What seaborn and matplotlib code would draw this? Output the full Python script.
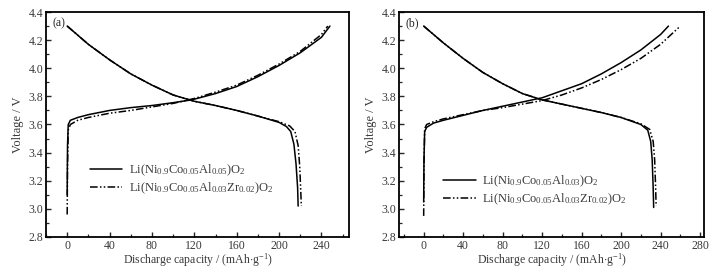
import numpy as np
import pandas as pd
import seaborn as sns
import matplotlib.pyplot as plt
from matplotlib.ticker import MultipleLocator

sns.set_style("ticks")
plt.rcParams["font.family"] = ["Liberation Serif", "DejaVu Serif"]
plt.rcParams["mathtext.fontset"] = "custom"
plt.rcParams["mathtext.rm"] = "Liberation Serif"
plt.rcParams["mathtext.it"] = "Liberation Serif:italic"

# sample names
s1_a = r"Li(Ni$_{0.9}$Co$_{0.05}$Al$_{0.05}$)O$_2$"
s2_a = r"Li(Ni$_{0.9}$Co$_{0.05}$Al$_{0.03}$Zr$_{0.02}$)O$_2$"
s1_b = r"Li(Ni$_{0.9}$Co$_{0.05}$Al$_{0.03}$)O$_2$"
s2_b = r"Li(Ni$_{0.9}$Co$_{0.05}$Al$_{0.03}$Zr$_{0.02}$)O$_2$"

# panel (a) - charge curves
a1_chg_x = [0, 0.3, 1, 3, 10, 20, 40, 60, 80, 100, 113, 120, 140, 160, 180, 200, 220, 240, 248]
a1_chg_y = [3.10, 3.45, 3.60, 3.63, 3.65, 3.67, 3.70, 3.72, 3.735, 3.755, 3.77, 3.78, 3.82, 3.87, 3.94, 4.02, 4.11, 4.22, 4.30]
a2_chg_x = [0, 0.3, 1, 3, 10, 20, 40, 60, 80, 100, 120, 140, 160, 180, 200, 220, 240, 246]
a2_chg_y = [2.96, 3.30, 3.56, 3.60, 3.63, 3.65, 3.68, 3.70, 3.725, 3.75, 3.785, 3.83, 3.88, 3.95, 4.03, 4.12, 4.24, 4.30]
# panel (a) - discharge curves
a1_dis_x = [0, 20, 40, 60, 80, 100, 120, 140, 160, 180, 200, 207, 211, 214, 216, 217.5, 218]
a1_dis_y = [4.30, 4.17, 4.06, 3.96, 3.88, 3.81, 3.765, 3.735, 3.70, 3.66, 3.615, 3.585, 3.55, 3.46, 3.32, 3.15, 3.02]
a2_dis_x = [0, 20, 40, 60, 80, 100, 120, 140, 160, 180, 200, 210, 215, 218, 219.5, 220.5, 221]
a2_dis_y = [4.30, 4.17, 4.06, 3.96, 3.88, 3.81, 3.765, 3.735, 3.70, 3.66, 3.62, 3.59, 3.55, 3.45, 3.30, 3.12, 3.02]

# panel (b) - charge curves
b1_chg_x = [0, 0.3, 1, 3, 10, 20, 40, 60, 80, 100, 120, 140, 160, 180, 200, 220, 240, 248]
b1_chg_y = [3.05, 3.35, 3.55, 3.58, 3.61, 3.63, 3.665, 3.70, 3.73, 3.76, 3.79, 3.84, 3.89, 3.96, 4.04, 4.13, 4.24, 4.30]
b2_chg_x = [0, 0.3, 1, 3, 10, 20, 40, 60, 80, 100, 120, 140, 160, 180, 200, 220, 240, 260]
b2_chg_y = [2.95, 3.30, 3.57, 3.60, 3.62, 3.64, 3.67, 3.70, 3.72, 3.745, 3.77, 3.81, 3.86, 3.92, 3.99, 4.07, 4.17, 4.30]
# panel (b) - discharge curves
b1_dis_x = [0, 20, 40, 60, 80, 100, 120, 140, 160, 180, 200, 220, 227, 230, 231.5, 232.5, 233]
b1_dis_y = [4.30, 4.18, 4.07, 3.97, 3.89, 3.82, 3.775, 3.745, 3.715, 3.685, 3.65, 3.60, 3.56, 3.48, 3.35, 3.15, 3.01]
b2_dis_x = [0, 20, 40, 60, 80, 100, 120, 140, 160, 180, 200, 220, 229, 232.5, 234, 235, 235.5]
b2_dis_y = [4.30, 4.18, 4.07, 3.97, 3.89, 3.82, 3.775, 3.745, 3.715, 3.685, 3.65, 3.605, 3.565, 3.48, 3.35, 3.15, 3.02]


def make_df(curves):
    rows = []
    for sample, branch, xs, ys in curves:
        for x, y in zip(xs, ys):
            rows.append({"cap": x, "V": y, "sample": sample, "branch": branch})
    return pd.DataFrame(rows)


df_a = make_df([
    (s1_a, "chg", a1_chg_x, a1_chg_y), (s1_a, "dis", a1_dis_x, a1_dis_y),
    (s2_a, "chg", a2_chg_x, a2_chg_y), (s2_a, "dis", a2_dis_x, a2_dis_y),
])
df_b = make_df([
    (s1_b, "chg", b1_chg_x, b1_chg_y), (s1_b, "dis", b1_dis_x, b1_dis_y),
    (s2_b, "chg", b2_chg_x, b2_chg_y), (s2_b, "dis", b2_dis_x, b2_dis_y),
])

dashdot = (5, 1.5, 1, 1.5, 1, 1.5)
txt = "#3a3a3a"

fig = plt.figure(figsize=(7.18, 2.74), dpi=100)
ax_a = fig.add_axes([46 / 718, 37 / 274, 303 / 718, 225 / 274])
ax_b = fig.add_axes([399 / 718, 37 / 274, 305 / 718, 225 / 274])

panels = [
    (ax_a, df_a, s1_a, s2_a, (-20, 266), "(a)", 0.33),
    (ax_b, df_b, s1_b, s2_b, (-25, 284), "(b)", 0.28),
]

for ax, df, s1, s2, xlim, tag, leg_y in panels:
    sns.lineplot(data=df, x="cap", y="V", hue="sample", style="sample", units="branch",
                 estimator=None, sort=False, palette={s1: "black", s2: "black"},
                 dashes={s1: "", s2: dashdot}, linewidth=1.1, ax=ax, legend="auto")
    handles, labels = ax.get_legend_handles_labels()
    leg = ax.legend(handles, labels, frameon=False, loc="upper left", bbox_to_anchor=(0.145, leg_y),
                    fontsize=9, handlelength=2.6, handletextpad=0.5, labelspacing=0.2,
                    borderpad=0, borderaxespad=0)
    for t in leg.get_texts():
        t.set_color(txt)
    ax.set_xlim(*xlim)
    ax.set_ylim(2.8, 4.4)
    ax.xaxis.set_major_locator(MultipleLocator(40))
    ax.xaxis.set_minor_locator(MultipleLocator(20))
    ax.yaxis.set_major_locator(MultipleLocator(0.2))
    ax.yaxis.set_minor_locator(MultipleLocator(0.1))
    ax.yaxis.set_major_formatter(plt.FormatStrFormatter("%.1f"))
    ax.tick_params(which="both", direction="in", labelsize=8.5, top=False, right=False,
                   labelcolor=txt, pad=2)
    ax.tick_params(which="major", length=3.5, width=1.0)
    ax.tick_params(which="minor", length=2, width=0.9)
    for sp in ax.spines.values():
        sp.set_visible(True)
        sp.set_linewidth(1.3)
        sp.set_color("black")
    ax.set_xlabel(r"Discharge capacity / (mAh$\cdot$g$^{-1}$)", fontsize=8.5, labelpad=0, color=txt)
    ax.set_ylabel("Voltage / V", fontsize=9, labelpad=3, color=txt)
    ax.text(0.02, 0.975, tag, transform=ax.transAxes, fontsize=8.5, va="top", ha="left")

fig.savefig("out.png", dpi=100)
